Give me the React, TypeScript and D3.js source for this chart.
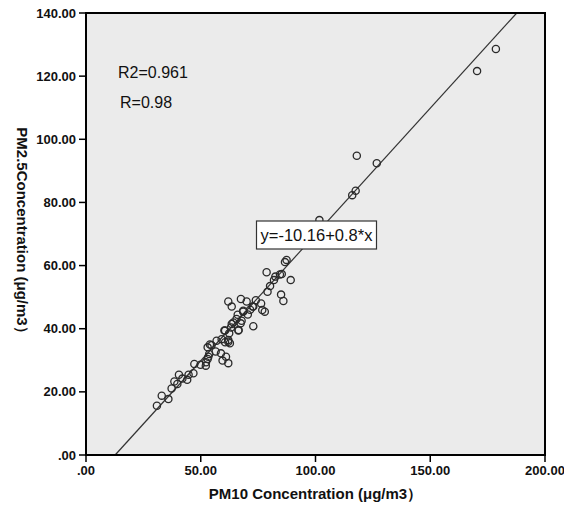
import React from "react";
import * as d3 from "d3";

const xTicks = [0, 50, 100, 150, 200];
const yTicks = [0, 20, 40, 60, 80, 100, 120, 140];
const pm10 = [
  30.9, 33, 35.9, 37.3, 38.5, 39.8, 40.5, 42, 44.1, 44.7, 46.8, 47.2, 49.9, 52.2, 52.3, 53, 53.3, 53.7, 53, 54.7,
  56.5, 58.8, 59.5, 62, 61, 56.9, 59.1, 60.6, 62, 60.3, 62.4, 63.2, 64.2, 66.5, 65.6, 67.8, 62, 63.5, 67.5, 70,
  68.5, 72.9, 72.6, 66.1, 67.4, 63.5, 60.6, 66.4, 62, 62.7, 54, 76.3, 76.8, 77.9, 68.5, 72.9, 79.1, 85, 86, 78.7,
  81.9, 85.3, 89.2, 86.7, 87.4, 101.7, 116, 117.5, 118, 126.7, 170.4, 178.6, 70.5, 71.5, 74, 80.2, 82.5, 84.5,
];
const pm25 = [
  15.6, 18.8, 17.7, 21.1, 23.3, 22.5, 25.4, 24.2, 23.8, 25.4, 25.9, 28.8, 28.6, 28.3, 29.4, 30.4, 31.1, 32, 34.1, 34.8,
  32.8, 32.2, 29.9, 29.1, 31.1, 36.2, 36.7, 35.7, 35.9, 39.4, 38.6, 40.4, 42, 39.6, 43.1, 42.5, 48.6, 47, 49.4, 48.6,
  45.7, 40.8, 47, 44.4, 41.7, 41.5, 39.4, 39.4, 36.4, 35.4, 35, 48, 45.9, 45.4, 45.4, 47, 51.7, 50.8, 48.8, 57.9,
  55.4, 57.3, 55.4, 61.1, 61.8, 74.4, 82.3, 83.7, 94.8, 92.4, 121.6, 128.6, 44.5, 46, 49, 53.5, 56.5, 57.2,
];
const intercept = -10.16;
const slope = 0.8;
const r2Text = "R2=0.961";
const rText = "R=0.98";
const eqText = "y=-10.16+0.8*x";
const xTitle = "PM10 Concentration (μg/m3）";
const yTitle = "PM2.5Concentration (μg/m3）";

export default function App() {
  const W = 564, H = 511;
  const L = 86, R = 545, T = 13, B = 455;
  const x = d3.scaleLinear().domain([0, 200]).range([L, R]);
  const y = d3.scaleLinear().domain([0, 140]).range([B, T]);
  const font = "'Liberation Sans', Arial, sans-serif";
  const x0 = -intercept / slope;
  const x1 = (140 - intercept) / slope;
  const line = d3.line<[number, number]>().x((d) => x(d[0])).y((d) => y(d[1]));
  const pts: [number, number][] = [
    [x0, 0],
    [x1, 140],
  ];
  return (
    <svg width={W} height={H} style={{ position: "absolute", left: 0, top: 0, background: "#fff" }}>
      <rect x={L} y={T} width={R - L} height={B - T} fill="#ebebeb" />
      <path d={line(pts) || ""} stroke="#333" strokeWidth={1.2} fill="none" />
      {pm10.map((v, i) => (
        <circle key={i} cx={x(v)} cy={y(pm25[i])} r={3.6} fill="none" stroke="#2a2a2a" strokeWidth={1.3} />
      ))}
      <rect x={L} y={T} width={R - L} height={B - T} fill="none" stroke="#000" strokeWidth={2} />
      {yTicks.map((t) => (
        <g key={"y" + t}>
          <line x1={L - 7} x2={L} y1={y(t)} y2={y(t)} stroke="#000" strokeWidth={1.5} />
          <text x={L - 10} y={y(t)} dy="0.35em" textAnchor="end" fontFamily={font} fontWeight="bold" fontSize={13} fill="#111">
            {d3.format(".2f")(t).replace(/^0\./, ".")}
          </text>
        </g>
      ))}
      {xTicks.map((t) => (
        <g key={"x" + t}>
          <line x1={x(t)} x2={x(t)} y1={B} y2={B + 7} stroke="#000" strokeWidth={1.5} />
          <text x={x(t)} y={B + 20} textAnchor="middle" fontFamily={font} fontWeight="bold" fontSize={13} fill="#111">
            {d3.format(".2f")(t).replace(/^0\./, ".")}
          </text>
        </g>
      ))}
      <text x={(L + R) / 2} y={499} textAnchor="middle" fontFamily={font} fontWeight="bold" fontSize={15} fill="#111">
        {xTitle}
      </text>
      <text
        transform={`translate(22,${(T + B) / 2}) rotate(90)`}
        textAnchor="middle"
        dy="0.35em"
        fontFamily={font}
        fontWeight="bold"
        fontSize={15}
        fill="#111"
      >
        {yTitle}
      </text>
      <text x={118} y={78} fontFamily={font} fontSize={16} fill="#111">{r2Text}</text>
      <text x={120} y={108} fontFamily={font} fontSize={16} fill="#111">{rText}</text>
      <rect x={256.5} y={221} width={120} height={28} fill="#fff" stroke="#333" strokeWidth={1.2} />
      <text x={316.5} y={235} dy="0.36em" textAnchor="middle" fontFamily={font} fontSize={16.5} fill="#111">
        {eqText}
      </text>
    </svg>
  );
}
